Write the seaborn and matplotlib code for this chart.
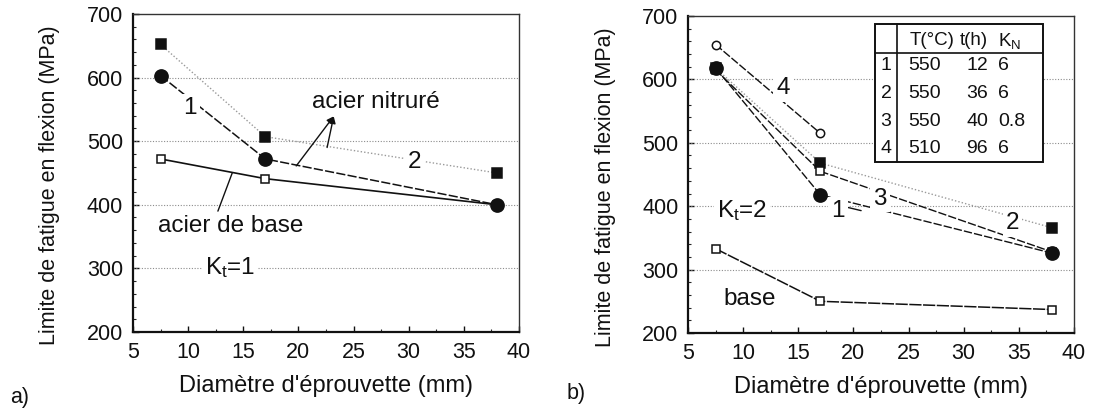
import matplotlib
matplotlib.use("Agg")
import matplotlib.pyplot as plt
from matplotlib.patches import Rectangle
from matplotlib.ticker import MultipleLocator
import numpy as np
import pandas as pd
import seaborn as sns

# ---- data ----
diam = [7.5, 17, 38]

# (a) Kt = 1
a_nitr1 = [603, 472, 400]
a_nitr2 = [652, 507, 450]
a_base = [472, 441, 400]

# (b) Kt = 2
b_diam4 = [7.5, 17]
b_s1 = [618, 418, 326]
b_s2 = [618, 468, 366]
b_s3 = [615, 455, 328]
b_s4 = [655, 515]
b_base = [333, 250, 237]

table_header = ["T(°C)", "t(h)", "K$_{\\rm N}$"]
table_rows = [["1", "550", "12", "6"],
              ["2", "550", "36", "6"],
              ["3", "550", "40", "0.8"],
              ["4", "510", "96", "6"]]

xlabel = "Diamètre d'éprouvette (mm)"
ylabel = "Limite de fatigue en flexion (MPa)"

sns.set_style("white")
plt.rcParams["font.family"] = ["Liberation Sans", "DejaVu Sans"]
plt.rcParams["mathtext.fontset"] = "custom"
plt.rcParams["mathtext.rm"] = "Liberation Sans"
plt.rcParams["mathtext.it"] = "Liberation Sans"

TICK_FS = 15.5
XLAB_FS = 17
YLAB_FS = 15.5
TXT_FS = 17.5
TAB_FS = 14

fig = plt.figure(figsize=(10.98, 4.11), dpi=100)
axA = fig.add_axes([0.1211, 0.1922, 0.3516, 0.7740])
axB = fig.add_axes([0.6266, 0.1898, 0.3515, 0.7713])

BLACK = "#111111"
GREY = "#9a9a9a"


def series(ax, x, y, marker, ms, mfc, ls, color, lw=1.1, z=3):
    df = pd.DataFrame({"d": x, "s": y})
    sns.lineplot(data=df, x="d", y="s", ax=ax, sort=False, errorbar=None,
                 color=color, lw=lw, linestyle=ls, marker=marker, markersize=ms,
                 markerfacecolor=mfc, markeredgecolor=BLACK, markeredgewidth=1.1,
                 zorder=z)


def style_axes(ax):
    ax.set_xlim(5, 40)
    ax.set_ylim(200, 700)
    ax.xaxis.set_major_locator(MultipleLocator(5))
    ax.xaxis.set_minor_locator(MultipleLocator(2.5))
    ax.yaxis.set_major_locator(MultipleLocator(100))
    ax.yaxis.set_minor_locator(MultipleLocator(20))
    ax.tick_params(which="major", direction="in", length=4, width=1,
                   labelsize=TICK_FS, colors=BLACK, pad=7,
                   bottom=True, left=True)
    ax.tick_params(which="minor", direction="in", length=2, width=0.8,
                   bottom=True, left=True)
    for g in (300, 400, 500, 600):
        ax.axhline(g, color="#8c8c8c", lw=0.8, ls=(0, (1, 1.5)), zorder=1)
    for side in ("left", "bottom"):
        ax.spines[side].set_linewidth(1.6)
        ax.spines[side].set_color(BLACK)
    for side in ("top", "right"):
        ax.spines[side].set_linewidth(1.0)
        ax.spines[side].set_color("#333333")
    ax.set_xlabel(xlabel, fontsize=XLAB_FS, labelpad=9, color=BLACK)
    ax.set_ylabel(ylabel, fontsize=YLAB_FS, color=BLACK, va="center")
    ax.yaxis.set_label_coords(-0.215, 0.46)


def label(ax, x, y, s, ha="center", fs=TXT_FS):
    ax.text(x, y, s, ha=ha, va="center", fontsize=fs, color=BLACK, zorder=6,
            bbox=dict(boxstyle="square,pad=0.12", fc="white", ec="none"))


# ---- panel a ----
style_axes(axA)
series(axA, diam, a_nitr2, "s", 7, BLACK, (0, (1, 1.5)), GREY, lw=1.0)
series(axA, diam, a_base, "s", 6, "white", "-", BLACK, lw=1.2, z=4)
series(axA, diam, a_nitr1, "o", 9.5, BLACK, (0, (6, 1.5)), BLACK, lw=1.1, z=4)

label(axA, 10.2, 552, "1")
label(axA, 30.5, 467, "2")
label(axA, 21.2, 562, "acier nitruré", ha="left")
label(axA, 7.3, 367, "acier de base", ha="left")
label(axA, 13.8, 302, "K$_{\\rm t}$=1")
for tx, ty in ((19.8, 461), (22.6, 490)):
    axA.annotate("", xy=(23.2, 539), xytext=(tx, ty),
                 arrowprops=dict(arrowstyle="-|>", color=BLACK, lw=1.0,
                                 mutation_scale=10, shrinkA=0, shrinkB=0),
                 zorder=5)
axA.plot([12.7, 14.0], [390, 450], color=BLACK, lw=1.0, zorder=5)

# ---- panel b ----
style_axes(axB)
series(axB, diam, b_s2, "s", 7, BLACK, (0, (1, 1.5)), GREY, lw=1.0)
series(axB, diam, b_s3, "s", 6, "white", (0, (6, 1.5)), BLACK, lw=1.0)
series(axB, diam, b_s1, "o", 9.5, BLACK, (0, (6, 1.5)), BLACK, lw=1.0, z=4)
series(axB, b_diam4, b_s4, "o", 6, "white", (0, (6, 1.5)), BLACK, lw=1.0)
series(axB, diam, b_base, "s", 6, "white", (0, (8, 1)), BLACK, lw=1.1)

label(axB, 13.6, 587, "4")
label(axB, 18.6, 393, "1")
axB.plot([19.5, 20.7], [398, 393], color=BLACK, lw=1.0, zorder=5)
label(axB, 22.4, 412, "3")
label(axB, 34.4, 373, "2")
label(axB, 9.9, 393, "K$_{\\rm t}$=2", fs=TXT_FS)
label(axB, 10.6, 254, "base", fs=TXT_FS)

# composition table drawn in data coordinates
tl, tr, tt, tb = 22.0, 37.2, 688, 469
xdiv, ydiv = 23.95, 641
axB.add_patch(Rectangle((tl, tb), tr - tl, tt - tb, fc="white", ec=BLACK,
                        lw=1.4, zorder=7))
axB.plot([xdiv, xdiv], [tb, tt], color=BLACK, lw=1.2, zorder=8)
axB.plot([tl, tr], [ydiv, ydiv], color=BLACK, lw=1.2, zorder=8)
hx = [25.1, 29.6, 33.1]
for x, s in zip(hx, table_header):
    axB.text(x, 661, s, ha="left", va="center", fontsize=TAB_FS - 0.5,
             color=BLACK, zorder=9)
row_y = [622, 578, 534, 491]
for y, row in zip(row_y, table_rows):
    axB.text(22.95, y, row[0], ha="center", va="center", fontsize=TAB_FS,
             color=BLACK, zorder=9)
    axB.text(24.95, y, row[1], ha="left", va="center", fontsize=TAB_FS,
             color=BLACK, zorder=9)
    axB.text(32.2, y, row[2], ha="right", va="center", fontsize=TAB_FS,
             color=BLACK, zorder=9)
    axB.text(33.1, y, row[3], ha="left", va="center", fontsize=TAB_FS,
             color=BLACK, zorder=9)

fig.text(0.009, 0.02, "a)", fontsize=TICK_FS, color=BLACK)
fig.text(0.516, 0.03, "b)", fontsize=TICK_FS, color=BLACK)

fig.savefig("out.png", dpi=100, facecolor="white")
